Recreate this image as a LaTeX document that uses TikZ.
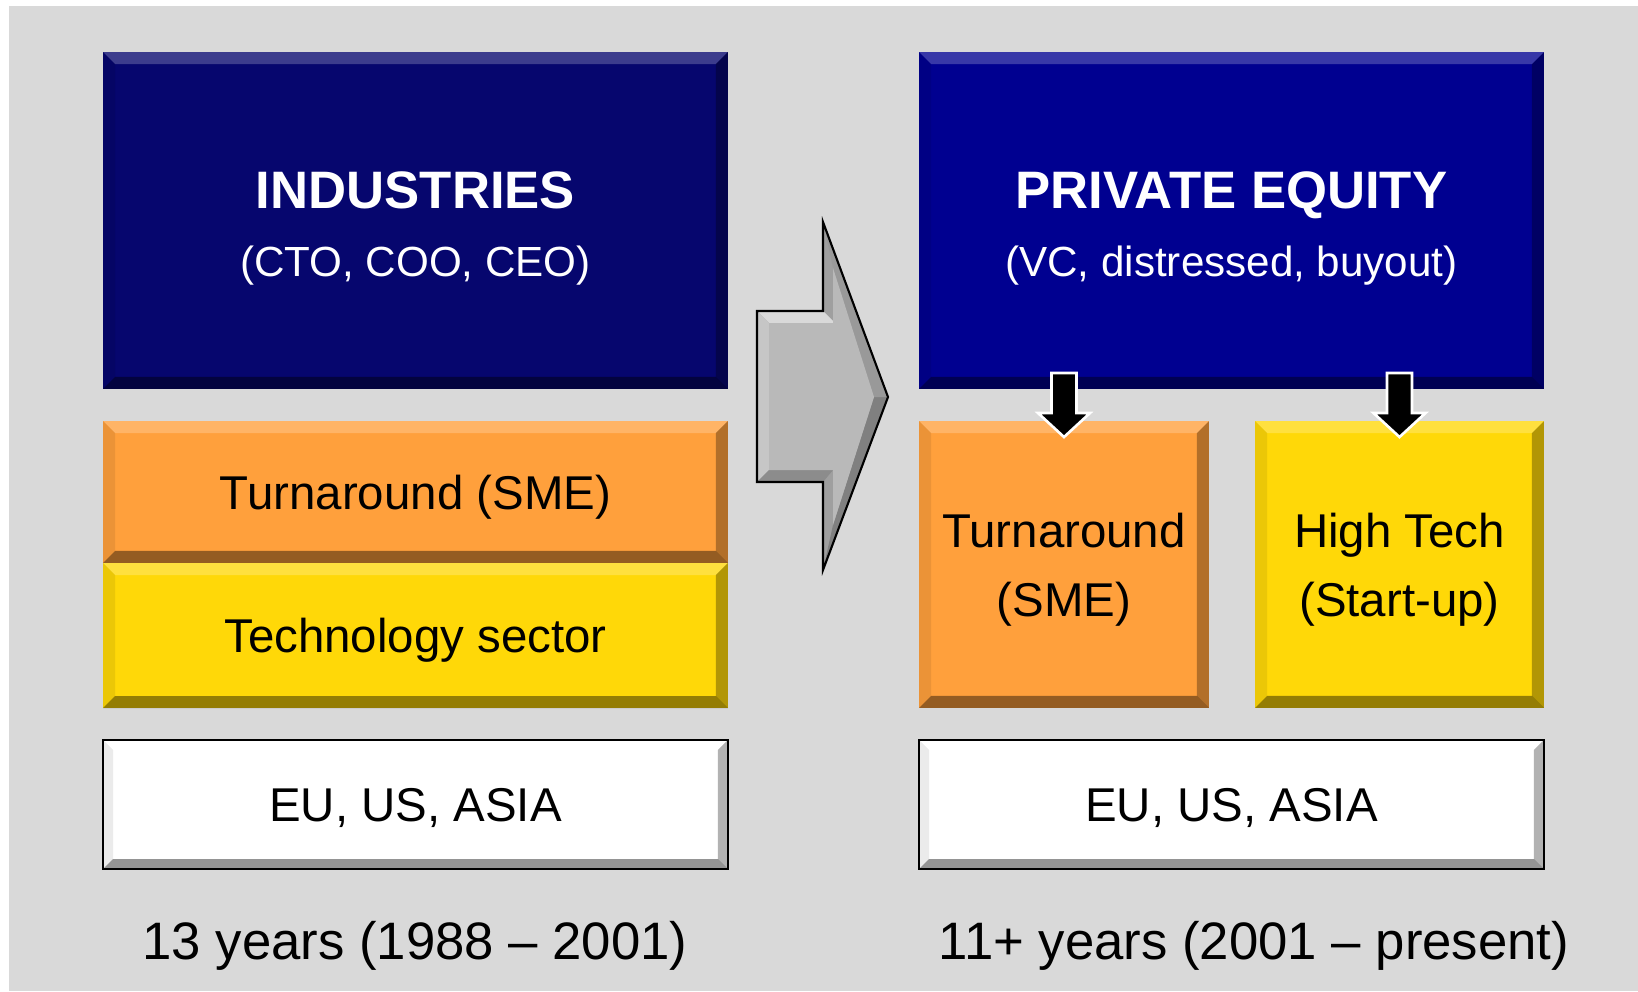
\documentclass[tikz,border=0pt]{standalone}
\usepackage{fontspec}
\setmainfont{Liberation Sans}
\usepackage{tikz}

\definecolor{panelgray}{HTML}{D9D9D9}
\definecolor{navy}{HTML}{06066E}
\definecolor{peblue}{HTML}{000090}
\definecolor{boxorange}{HTML}{FFA03C}
\definecolor{boxyellow}{HTML}{FFD808}

% bevelled edge of a box node: #1 node, #2 depth
\newcommand{\bevel}[2]{%
  \fill[white,opacity=.22] (#1.north west) -- (#1.north east) -- ([shift={(-#2,#2)}]#1.north east) -- ([shift={(#2,#2)}]#1.north west) -- cycle;
  \fill[black,opacity=.08] (#1.north west) -- ([shift={(#2,#2)}]#1.north west) -- ([shift={(#2,-#2)}]#1.south west) -- (#1.south west) -- cycle;
  \fill[black,opacity=.3] (#1.north east) -- ([shift={(-#2,#2)}]#1.north east) -- ([shift={(-#2,-#2)}]#1.south east) -- (#1.south east) -- cycle;
  \fill[black,opacity=.42] (#1.south west) -- ([shift={(#2,-#2)}]#1.south west) -- ([shift={(-#2,-#2)}]#1.south east) -- (#1.south east) -- cycle;
}

\tikzset{
  box/.style={rectangle,outer sep=0pt,inner sep=0pt,align=center,
              text depth=0pt,
              font=\fontsize{27}{39.3}\selectfont},
  wide/.style={box,minimum width=12.5cm},
  title/.style={white,anchor=base,font=\bfseries\fontsize{30}{36}\selectfont},
  subtitle/.style={white,anchor=base,font=\fontsize{24}{29}\selectfont},
  period/.style={anchor=base,font=\fontsize{30}{36}\selectfont},
  droparrow/.style={fill=black,draw=white,line width=1.5pt,line join=miter}
}

\begin{document}
\begin{tikzpicture}[x=0.02cm,y=-0.02cm]
  \useasboundingbox (0,0) rectangle (1638,991);
  \fill[white] (0,0) rectangle (1638,991);
  \fill[panelgray] (9,6) rectangle (1638,991);

  % boxes
  \node[wide,fill=navy,minimum height=6.74cm] (ind) at (415.5,220.5) {};
  \node[wide,fill=boxorange,minimum height=2.84cm] (ta1) at (415.5,492) {Turnaround (SME)};
  \node[wide,fill=boxyellow,minimum height=2.9cm] (tech) at (415.5,635.5) {Technology sector};
  \node[wide,fill=white,draw=black,line width=1.2pt,minimum height=2.58cm] (eu1) at (415.5,804.5) {EU, US, ASIA};

  \node[wide,fill=peblue,minimum height=6.74cm] (pe) at (1231.5,220.5) {};
  \node[box,fill=boxorange,minimum width=5.8cm,minimum height=5.74cm] (ta2) at (1064,564.5) {Turnaround\\(SME)};
  \node[box,fill=boxyellow,minimum width=5.78cm,minimum height=5.74cm] (ht) at (1399.5,564.5) {High Tech\\(Start-up)};
  \node[wide,fill=white,draw=black,line width=1.2pt,minimum height=2.58cm] (eu2) at (1231.5,804.5) {EU, US, ASIA};

  \foreach \n in {ind,ta1,tech,pe,ta2,ht}
    \bevel{\n}{12};
  \foreach \n in {eu1,eu2} {
    \bevel{\n}{10}
    \draw[line width=1.2pt] (\n.north west) rectangle (\n.south east);
  }

  % titles
  \node[title] (indt) at (415.5,208) {INDUSTRIES};
  \node[subtitle] (inds) at (415.5,276) {(CTO, COO, CEO)};
  \node[title] (pet) at (1231.5,208) {PRIVATE EQUITY};
  \node[subtitle] (pes) at (1231.5,276) {(VC, distressed, buyout)};

  % big arrow
  \fill[gray!75] (757,311) -- (823,311) -- (823,222) -- (888,397) -- (823,570) -- (823,482) -- (757,482) -- cycle;
  \fill[gray!30] (757,311) -- (823,311) -- (835,323) -- (769,323) -- cycle;
  \fill[gray!45] (757,311) -- (769,323) -- (769,470) -- (757,482) -- cycle;
  \fill[gray!90] (757,482) -- (769,470) -- (833,470) -- (823,482) -- cycle;
  \fill[gray!100] (888,397) -- (823,570) -- (833,525) -- (874,397) -- cycle;
  \fill[gray!80] (823,222) -- (888,397) -- (874,397) -- (833,268) -- cycle;
  \fill[gray!55] (769,323) -- (833,323) -- (833,268) -- (874,397) -- (833,525) -- (833,470) -- (769,470) -- cycle;
  \draw[line width=1.2pt,line join=miter] (757,311) -- (823,311) -- (823,222) -- (888,397) -- (823,570) -- (823,482) -- (757,482) -- cycle;

  % drop arrows
  \foreach \b in {ta2,ht}
    \filldraw[droparrow] ([shift={(-12.5,-48)}]\b.north) -- ([shift={(12.5,-48)}]\b.north)
      -- ([shift={(12.5,-8)}]\b.north) -- ([shift={(26,-8)}]\b.north) -- ([shift={(0,16)}]\b.north)
      -- ([shift={(-26,-8)}]\b.north) -- ([shift={(-12.5,-8)}]\b.north) -- cycle;

  % periods
  \node[period] (p1) at (415,959) {13 years (1988 -- 2001)};
  \node[period] (p2) at (1254,959) {11+ years (2001 -- present)};
\end{tikzpicture}
\end{document}
